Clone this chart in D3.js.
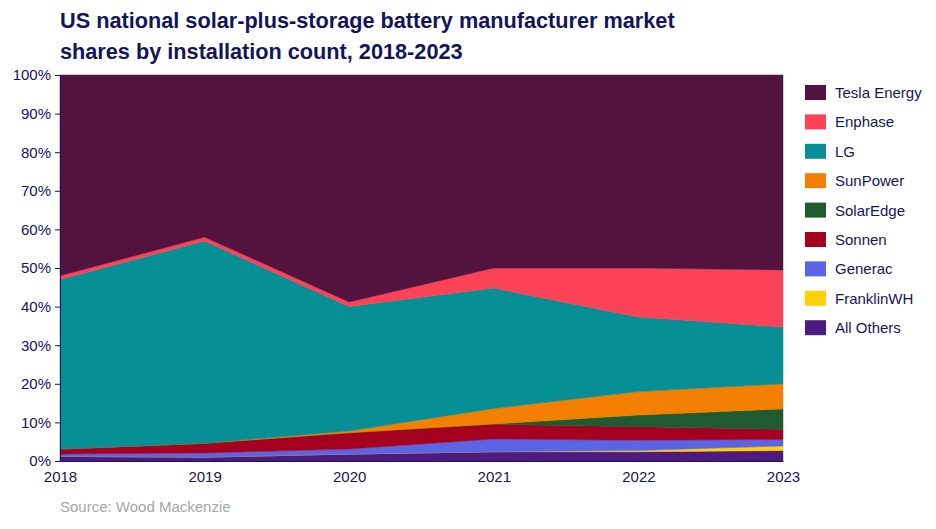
<!DOCTYPE html>
<html>
<head>
<meta charset="UTF-8">
<title>Battery market shares</title>
<script src="https://cdn.jsdelivr.net/npm/d3@7"></script>
<style>
  body { margin: 0; background: #fff; }
  text { font-family: "Liberation Sans", Arial, sans-serif; }
</style>
</head>
<body>
<script>
// data (percent of installations)
var years = [2018, 2019, 2020, 2021, 2022, 2023];
var allOthers  = [1.2, 1.0, 1.8, 2.4, 2.4, 2.7];
var franklinWH = [0.0, 0.0, 0.0, 0.0, 0.3, 1.2];
var generac    = [0.6, 1.1, 1.3, 3.3, 2.7, 1.7];
var sonnen     = [1.3, 2.5, 4.2, 3.8, 3.5, 2.6];
var solarEdge  = [0.0, 0.0, 0.0, 0.1, 3.0, 5.3];
var sunPower   = [0.0, 0.0, 0.5, 4.0, 6.1, 6.5];
var lg         = [43.9, 52.4, 32.2, 31.2, 19.3, 14.7];
var enphase    = [1.0, 1.0, 1.2, 5.2, 12.7, 14.8];
var tesla      = [52.0, 42.0, 58.8, 50.0, 50.0, 50.5];
var yTicks = [0, 10, 20, 30, 40, 50, 60, 70, 80, 90, 100];

// stack order bottom -> top
var series = [
  {name: "All Others",   values: allOthers,  color: "#4e1a80"},
  {name: "FranklinWH",   values: franklinWH, color: "#ffd200"},
  {name: "Generac",      values: generac,    color: "#5a64e4"},
  {name: "Sonnen",       values: sonnen,     color: "#a5001f"},
  {name: "SolarEdge",    values: solarEdge,  color: "#1e5b31"},
  {name: "SunPower",     values: sunPower,   color: "#f47f00"},
  {name: "LG",           values: lg,         color: "#068f95"},
  {name: "Enphase",      values: enphase,    color: "#fc4257"},
  {name: "Tesla Energy", values: tesla,      color: "#52143e"}
];

var w = 936, h = 529;
var margin = {left: 60, right: 153, top: 75, bottom: 68};
var navy = "#14145a";

var svg = d3.select("body").append("svg")
  .attr("width", w)
  .attr("height", h);

// rows for d3.stack
var rows = years.map(function(y, i) {
  var r = {year: y};
  series.forEach(function(s) { r[s.name] = s.values[i]; });
  return r;
});

var stack = d3.stack().keys(series.map(function(s) { return s.name; }));
var layers = stack(rows);

var x = d3.scaleLinear()
  .domain([2018, 2023])
  .range([margin.left, w - margin.right]);
var y = d3.scaleLinear()
  .domain([0, 100])
  .range([h - margin.bottom, margin.top]);

var area = d3.area()
  .x(function(d) { return x(d.data.year); })
  .y0(function(d) { return y(d[0]); })
  .y1(function(d) { return y(Math.min(100, d[1])); });

svg.append("g").selectAll("path")
  .data(layers)
  .enter()
    .append("path")
    .attr("d", area)
    .attr("fill", function(d, i) { return series[i].color; })
    .attr("stroke", function(d, i) { return series[i].color; })
    .attr("stroke-width", 0.5);

// title
svg.append("text")
  .attr("x", 60).attr("y", 28)
  .attr("font-size", "21.7px").attr("font-weight", "bold").attr("fill", navy)
  .text("US national solar-plus-storage battery manufacturer market");
svg.append("text")
  .attr("x", 60).attr("y", 59)
  .attr("font-size", "21.7px").attr("font-weight", "bold").attr("fill", navy)
  .text("shares by installation count, 2018-2023");

// axes
var yAxis = d3.axisLeft(y)
  .tickValues(yTicks)
  .tickFormat(function(d) { return d + "%"; })
  .tickSize(5);
var gy = svg.append("g")
  .attr("transform", "translate(" + margin.left + ",0)")
  .call(yAxis);
gy.selectAll("text").attr("font-size", "15px").attr("fill", navy).attr("dx", "-1");
gy.selectAll("line, path").attr("stroke", navy);

var xAxis = d3.axisBottom(x)
  .tickValues(years)
  .tickFormat(d3.format("d"))
  .tickSize(0);
var gx = svg.append("g")
  .attr("transform", "translate(0," + (h - margin.bottom) + ")")
  .call(xAxis);
gx.selectAll("text").attr("font-size", "15px").attr("fill", navy).attr("dy", "1.2em");
gx.selectAll("path").attr("stroke", navy);

// legend, top item first
var legend = svg.append("g").selectAll("g")
  .data(series.slice().reverse())
  .enter()
    .append("g")
    .attr("transform", function(d, i) { return "translate(805," + (85 + i * 29.4) + ")"; });
legend.append("rect")
  .attr("width", 21).attr("height", 15)
  .attr("fill", function(d) { return d.color; });
legend.append("text")
  .attr("x", 30).attr("y", 13)
  .attr("font-size", "15px").attr("fill", navy)
  .text(function(d) { return d.name; });

// source
svg.append("text")
  .attr("x", 60).attr("y", 512)
  .attr("font-size", "15px").attr("fill", "#a6a6a6")
  .text("Source: Wood Mackenzie");
</script>
</body>
</html>
